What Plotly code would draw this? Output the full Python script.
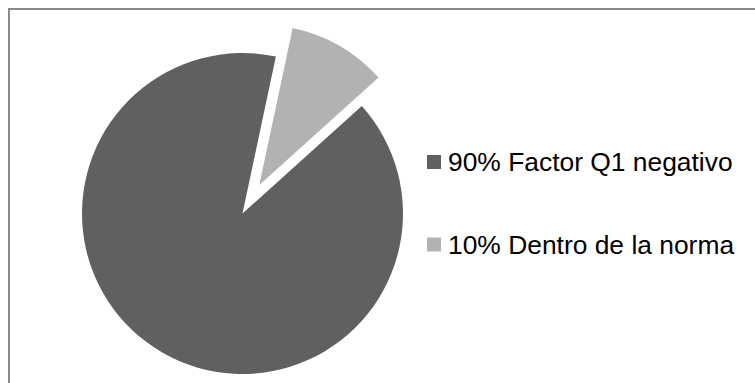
import plotly.graph_objects as go

# Share of cases by category
labels = ["Factor Q1 negativo", "Dentro de la norma"]
values = [90, 10]
colors = ["#606060", "#b2b2b2"]
pct_labels = ["90%", "10%"]

W, H = 755, 383
# pie geometry in pixels
cx, cy, r = 242.5, 213.5, 160.5
explode_dx, explode_dy = 16.8, -28.5  # offset of the detached slice
start_angle = 48

def dom_x(x0):
    return [(x0 - r) / W, (x0 + r) / W]

def dom_y(y0):
    return [1 - (y0 + r) / H, 1 - (y0 - r) / H]

fig = go.Figure()

# main body: the large slice, small slice left blank
fig.add_trace(go.Pie(
    labels=labels, values=values, sort=False, direction="clockwise",
    rotation=start_angle,
    marker=dict(colors=[colors[0], "rgba(0,0,0,0)"], line=dict(width=0)),
    textinfo="none", hoverinfo="skip", showlegend=False,
    domain=dict(x=dom_x(cx), y=dom_y(cy)),
))
# detached slice, shifted outward along its bisector
fig.add_trace(go.Pie(
    labels=labels, values=values, sort=False, direction="clockwise",
    rotation=start_angle,
    marker=dict(colors=["rgba(0,0,0,0)", colors[1]], line=dict(width=0)),
    textinfo="none", hoverinfo="skip", showlegend=False,
    domain=dict(x=dom_x(cx + explode_dx), y=dom_y(cy + explode_dy)),
))

# legend: swatches and labels
legend_y = [162, 244.5]
sw = 14
for i, (lab, pct) in enumerate(zip(labels, pct_labels)):
    yc = legend_y[i]
    fig.add_shape(type="rect", xref="paper", yref="paper",
                  x0=427 / W, x1=(427 + sw) / W,
                  y0=1 - (yc + sw / 2) / H, y1=1 - (yc - sw / 2) / H,
                  fillcolor=colors[i], line=dict(width=0))
    fig.add_annotation(text=f"{pct} {lab}", xref="paper", yref="paper",
                       x=445.5 / W, y=1 - (yc + 0.5) / H, xanchor="left", yanchor="middle",
                       showarrow=False,
                       font=dict(family="Liberation Sans, Arial", size=26.4, color="#000000"))

# chart area frame
fig.add_shape(type="rect", xref="paper", yref="paper",
              x0=9 / W, x1=1.02, y0=-0.02, y1=1 - 9 / H,
              line=dict(color="#898989", width=2), fillcolor="rgba(0,0,0,0)")

fig.update_layout(width=W, height=H, margin=dict(l=0, r=0, t=0, b=0),
                  paper_bgcolor="white", plot_bgcolor="white", showlegend=False)

fig.write_html("out.html")
